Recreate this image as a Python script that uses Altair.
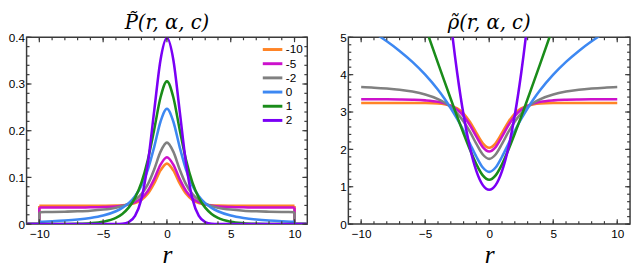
import altair as alt
import pandas as pd

# ---------------- data ----------------
R = [-10, -9, -8, -7, -6, -5, -4, -3.5, -3, -2.5, -2, -1.5, -1, -0.5, 0,
     0.5, 1, 1.5, 2, 2.5, 3, 3.5, 4, 5, 6, 7, 8, 9, 10]

ALPHAS = ["-10", "-5", "-2", "0", "1", "2"]
COLORS = ["#FF8426", "#CC11CC", "#808080", "#3D88F2", "#1A8C1A", "#7A00F5"]

# P~(r, alpha, c)
P_M10 = [0.0390, 0.0390, 0.0390, 0.0390, 0.0390, 0.0392, 0.0397, 0.0404, 0.0420, 0.0452, 0.0518, 0.0648, 0.0872, 0.1151, 0.1295,
         0.1151, 0.0872, 0.0648, 0.0518, 0.0452, 0.0420, 0.0404, 0.0397, 0.0392, 0.0390, 0.0390, 0.0390, 0.0390, 0.0390]
P_M5 = [0.0354, 0.0354, 0.0355, 0.0356, 0.0359, 0.0365, 0.0379, 0.0395, 0.0422, 0.0469, 0.0555, 0.0710, 0.0963, 0.1274, 0.1433,
        0.1274, 0.0963, 0.0710, 0.0555, 0.0469, 0.0422, 0.0395, 0.0379, 0.0365, 0.0359, 0.0356, 0.0355, 0.0354, 0.0354]
P_M2 = [0.0255, 0.0260, 0.0266, 0.0275, 0.0288, 0.0311, 0.0352, 0.0386, 0.0437, 0.0516, 0.0642, 0.0850, 0.1170, 0.1551, 0.1745,
        0.1551, 0.1170, 0.0850, 0.0642, 0.0516, 0.0437, 0.0386, 0.0352, 0.0311, 0.0288, 0.0275, 0.0266, 0.0260, 0.0255]
P_0 = [0.0049, 0.0060, 0.0075, 0.0097, 0.0130, 0.0183, 0.0275, 0.0347, 0.0449, 0.0599, 0.0824, 0.1163, 0.1648, 0.2197, 0.2472,
       0.2197, 0.1648, 0.1163, 0.0824, 0.0599, 0.0449, 0.0347, 0.0275, 0.0183, 0.0130, 0.0097, 0.0075, 0.0060, 0.0049]
P_1 = [0.0000, 0.0001, 0.0003, 0.0007, 0.0019, 0.0051, 0.0135, 0.0218, 0.0352, 0.0563, 0.0888, 0.1369, 0.2020, 0.2716, 0.3056,
       0.2716, 0.2020, 0.1369, 0.0888, 0.0563, 0.0352, 0.0218, 0.0135, 0.0051, 0.0019, 0.0007, 0.0003, 0.0001, 0.0000]
P_2 = [0.0, 0.0, 0.0, 0.0, 0.0, 0.0, 0.0001, 0.0009, 0.0044, 0.0175, 0.0540, 0.1295, 0.2420, 0.3521, 0.3989,
       0.3521, 0.2420, 0.1295, 0.0540, 0.0175, 0.0044, 0.0009, 0.0001, 0.0, 0.0, 0.0, 0.0, 0.0, 0.0]

# rho~(r, alpha, c)
RHO_M10 = [3.244, 3.244, 3.244, 3.244, 3.243, 3.240, 3.227, 3.209, 3.171, 3.097, 2.960, 2.736, 2.440, 2.162, 2.044,
           2.162, 2.440, 2.736, 2.960, 3.097, 3.171, 3.209, 3.227, 3.240, 3.243, 3.244, 3.244, 3.244, 3.244]
RHO_M5 = [3.342, 3.341, 3.339, 3.335, 3.328, 3.312, 3.272, 3.231, 3.166, 3.059, 2.891, 2.646, 2.340, 2.061, 1.943,
          2.061, 2.340, 2.646, 2.891, 3.059, 3.166, 3.231, 3.272, 3.312, 3.328, 3.335, 3.339, 3.341, 3.342]
RHO_M2 = [3.669, 3.652, 3.628, 3.595, 3.546, 3.470, 3.346, 3.254, 3.130, 2.965, 2.746, 2.466, 2.146, 1.863, 1.746,
          1.863, 2.146, 2.466, 2.746, 2.965, 3.130, 3.254, 3.346, 3.470, 3.546, 3.595, 3.628, 3.652, 3.669]
RHO_0 = [5.330, 5.123, 4.894, 4.636, 4.342, 4.000, 3.595, 3.361, 3.102, 2.815, 2.496, 2.151, 1.803, 1.515, 1.398,
         1.515, 1.803, 2.151, 2.496, 2.815, 3.102, 3.361, 3.595, 4.000, 4.342, 4.636, 4.894, 5.123, 5.330]
RHO_1 = [10.235, 9.241, 8.248, 7.257, 6.268, 5.285, 4.309, 3.826, 3.348, 2.878, 2.422, 1.988, 1.600, 1.304, 1.185,
         1.304, 1.600, 1.988, 2.422, 2.878, 3.348, 3.826, 4.309, 5.285, 6.268, 7.257, 8.248, 9.241, 10.235]
RHO_2 = [50.92, 41.42, 32.92, 25.42, 18.92, 13.42, 8.919, 7.044, 5.419, 4.044, 2.919, 2.044, 1.419, 1.044, 0.919,
         1.044, 1.419, 2.044, 2.919, 4.044, 5.419, 7.044, 8.919, 13.42, 18.92, 25.42, 32.92, 41.42, 50.92]

P_SERIES = [P_M10, P_M5, P_M2, P_0, P_1, P_2]
RHO_SERIES = [RHO_M10, RHO_M5, RHO_M2, RHO_0, RHO_1, RHO_2]

X_LABELS = [-10, -5, 0, 5, 10]
X_MINOR = list(range(-10, 11))
P_LABELS = [0, 0.1, 0.2, 0.3, 0.4]
P_MINOR = [round(i * 0.02, 2) for i in range(21)]
RHO_LABELS = [0, 1, 2, 3, 4, 5]
RHO_MINOR = [round(i * 0.2, 1) for i in range(26)]

# ---------------- styling ----------------
SANS = "Liberation Sans"
SERIF = "Liberation Serif"
TSERIF = "DejaVu Serif"
FRAME = "#3a3a3a"
LW = 2.6
MAJOR = 5
MINOR = 3
H = 191


def label_axis_x():
    return alt.Axis(orient="bottom", values=X_LABELS, domain=False, ticks=False,
                    labelPadding=5, labelFont=SANS, labelFontSize=12, labelColor="black",
                    grid=False, title="r", titleFont=SERIF, titleFontStyle="italic",
                    titleFontWeight="normal", titleFontSize=26, titleColor="black",
                    titlePadding=2, minExtent=0)


def label_axis_y(values):
    return alt.Axis(orient="left", values=values, domain=False, ticks=False,
                    labelPadding=2, labelFont=SANS, labelFontSize=12, labelColor="black",
                    format="~g", grid=False, title=None, minExtent=0)


cscale = alt.Scale(domain=ALPHAS, range=COLORS)
legend = alt.Legend(title=None, orient="none", legendX=245, legendY=6, symbolType="M-2,0H2",
                    symbolSize=100, symbolStrokeWidth=3, labelFont=SANS, labelFontSize=12,
                    labelColor="black", labelOffset=7, rowPadding=1.5, padding=0)


def tick_layers(xscale, yscale, W, ymajor, yminor):
    out = []
    for vals, size in [(X_LABELS, MAJOR), (X_MINOR, MINOR)]:
        df = pd.DataFrame({"t": vals})
        for y0, y1 in [(H, H - size), (0, size)]:
            out.append(alt.Chart(df).mark_rule(color=FRAME, strokeWidth=1.2).encode(
                x=alt.X("t:Q", scale=xscale, axis=None), y=alt.value(y0), y2=alt.value(y1)))
    for vals, size in [(ymajor, MAJOR), (yminor, MINOR)]:
        df = pd.DataFrame({"t": vals})
        for x0, x1 in [(0, size), (W, W - size)]:
            out.append(alt.Chart(df).mark_rule(color=FRAME, strokeWidth=1.2).encode(
                y=alt.Y("t:Q", scale=yscale, axis=None), x=alt.value(x0), x2=alt.value(x1)))
    return out


def build_panel(series, ydomain, ymajor, yminor, tails, show_legend, title, W):
    xscale = alt.Scale(domain=[-11, 11], nice=False, zero=False)
    yscale = alt.Scale(domain=ydomain, nice=False, zero=False)
    layers = []
    for a, vals in zip(ALPHAS, series):
        main = pd.DataFrame({"r": R, "v": vals, "alpha": a})
        parts = [(main, "monotone", False)]
        if tails:
            t = pd.DataFrame({"r": [-11, -10, -10, 10, 10, 11],
                              "v": [0, 0, vals[0], vals[-1], 0, 0],
                              "side": ["L", "L", "L", "R", "R", "R"],
                              "k": [0, 1, 2, 3, 4, 5], "alpha": a})
            parts.append((t, "linear", True))
        for df, interp, is_tail in parts:
            first = len(layers) == 0
            enc = dict(
                x=alt.X("r:Q", scale=xscale, axis=label_axis_x() if first else None),
                y=alt.Y("v:Q", scale=yscale, axis=label_axis_y(ymajor) if first else None),
                color=alt.Color("alpha:N", scale=cscale, legend=legend if show_legend else None),
            )
            if is_tail:
                enc["detail"] = alt.Detail("side:N")
                enc["order"] = alt.Order("k:Q")
            layers.append(alt.Chart(df).mark_line(strokeWidth=LW, interpolate=interp, clip=True).encode(**enc))
    layers += tick_layers(xscale, yscale, W, ymajor, yminor)
    return alt.layer(*layers).resolve_axis(x="independent", y="independent").properties(
        width=W, height=H,
        title=alt.TitleParams(text=title, font=TSERIF, fontStyle="italic", fontWeight="normal",
                              fontSize=20, color="black", offset=-2))


left = build_panel(P_SERIES, [0, 0.4], P_LABELS, P_MINOR, True, True, "P\u0303(r, \u03b1, c)", 287)
right = build_panel(RHO_SERIES, [0, 5], RHO_LABELS, RHO_MINOR, False, False, "\u03c1\u0303(r, \u03b1, c)", 288)

chart = alt.hconcat(left, right, spacing=42, bounds="flush").resolve_scale(
    color="independent").resolve_legend(color="independent").configure_view(
    stroke=FRAME, strokeWidth=1.5).properties(padding={"left": -1, "top": 2, "right": 0, "bottom": 0})

chart.save("out.html", embed_options={"renderer": "svg", "actions": False})
